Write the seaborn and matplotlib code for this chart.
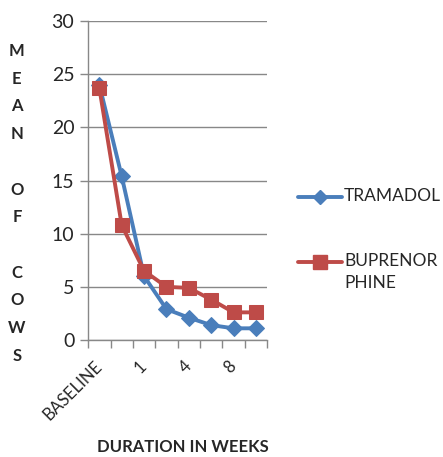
import numpy as np
import pandas as pd
import matplotlib
matplotlib.use("Agg")
import matplotlib.pyplot as plt
import seaborn as sns
from matplotlib.lines import Line2D

# data
weeks = ["BASELINE", "", "1", "", "4", "", "8", ""]
tramadol = [24.0, 15.4, 6.0, 2.9, 2.1, 1.4, 1.1, 1.1]
buprenorphine = [23.7, 10.8, 6.5, 5.0, 4.9, 3.8, 2.6, 2.6]
series_names = ["TRAMADOL", "BUPRENOR\nPHINE"]

blue = "#4A7EBB"
red = "#BE4B48"

df = pd.DataFrame({
    "pos": list(range(len(weeks))) * 2,
    "value": tramadol + buprenorphine,
    "drug": ["TRAMADOL"] * len(weeks) + ["BUPRENORPHINE"] * len(weeks),
})

sns.set_style("white")
plt.rcParams["font.family"] = ["Lato", "DejaVu Sans"]

fig = plt.figure(figsize=(4.43, 4.57), dpi=100)
ax = fig.add_axes([0.199, 0.256, 0.404, 0.698])

sns.lineplot(data=df[df.drug == "TRAMADOL"], x="pos", y="value", color=blue,
             marker="D", markersize=8, markeredgecolor=blue, linewidth=2.8,
             ax=ax, legend=False, zorder=2)
sns.lineplot(data=df[df.drug == "BUPRENORPHINE"], x="pos", y="value", color=red,
             marker="s", markersize=10, markeredgecolor=red, linewidth=2.8,
             ax=ax, legend=False, zorder=3)

ax.set_ylim(0, 30)
ax.set_xlim(-0.5, len(weeks) - 0.5)
ax.set_yticks(range(0, 31, 5))
ax.tick_params(axis="y", labelsize=14, length=6, color="#888888", width=1, direction="out", left=True, pad=4)
ax.yaxis.grid(True, color="#888888", linewidth=1)
ax.set_axisbelow(True)

# category ticks between points, labels at points
ax.set_xticks(np.arange(-0.5, len(weeks)), minor=False)
ax.set_xticklabels([])
ax.tick_params(axis="x", length=6, color="#888888", width=1, direction="out", bottom=True)
for i, lab in enumerate(weeks):
    if lab:
        ax.text(i - 0.25, -1.7, lab, rotation=45, ha="right", va="top",
                fontsize=12, rotation_mode="anchor")

for s in ["top", "right"]:
    ax.spines[s].set_visible(False)
for s in ["left", "bottom"]:
    ax.spines[s].set_color("#888888")
    ax.spines[s].set_linewidth(1)
ax.set_xlabel("")
ax.set_ylabel("")

fig.text(0.038, 0.555, "M\nE\nA\nN\n\nO\nF\n\nC\nO\nW\nS", ha="center", va="center",
         fontsize=12, fontweight="bold", linespacing=1.9)
fig.text(0.413, 0.005, "DURATION IN WEEKS", ha="center", va="bottom",
         fontsize=12, fontweight="bold")

# legend drawn by hand so the handle lines up with the first text line
W, H = 443, 457
legend_rows = [(197, blue, "D", 7), (262, red, "s", 10)]
for (ypx, col, mk, ms), name in zip(legend_rows, series_names):
    yf = 1 - ypx / H
    fig.add_artist(Line2D([298 / W, 342 / W], [yf, yf], color=col, linewidth=2.8,
                          transform=fig.transFigure))
    fig.add_artist(Line2D([320 / W], [yf], color=col, marker=mk, markersize=ms,
                          transform=fig.transFigure))
    fig.text(344 / W, yf + 9 / H, name, ha="left", va="top", fontsize=12.5,
             linespacing=1.45)

fig.savefig("out.png", dpi=100)
